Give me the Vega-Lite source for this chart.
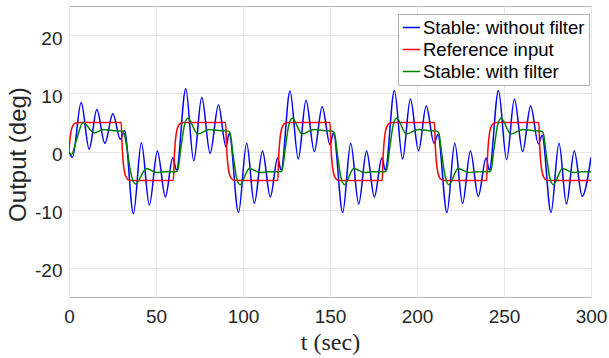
{
  "$schema": "https://vega.github.io/schema/vega-lite/v6.json",
  "width": 522,
  "height": 291,
  "autosize": {"type": "none"},
  "padding": {"left": 69, "top": 6, "right": 18, "bottom": 61},
  "background": "white",
  "config": {
    "view": {"stroke": "#b0b0b0", "strokeWidth": 1},
    "font": "Liberation Sans",
    "axis": {
      "grid": true,
      "gridColor": "#e6e6e6",
      "gridWidth": 1,
      "domain": false,
      "ticks": false,
      "labelFlush": false,
      "labelFont": "Liberation Sans",
      "labelFontSize": 19,
      "labelColor": "#262626",
      "titleColor": "#262626",
      "titleFontWeight": "normal"
    }
  },
  "datasets": {
    "blue": [{"t":0,"v":0},{"t":2,"v":-1},{"t":7,"v":8.4},{"t":11.6,"v":0.4},{"t":16,"v":7.2},{"t":20.6,"v":1.4},{"t":25.2,"v":6.5},{"t":29.5,"v":2.1},{"t":31.9,"v":3.6},{"t":37,"v":-10.7},{"t":41.6,"v":1.5},{"t":46.2,"v":-9.2},{"t":50.8,"v":0.1},{"t":55.4,"v":-7.8},{"t":59.6,"v":-1.1},
      {"t":61.8,"v":-3.2},{"t":67.1,"v":10.8},{"t":71.7,"v":-1.6},{"t":76.3,"v":9.3},{"t":81.1,"v":-0.3},{"t":85.9,"v":8},{"t":90.2,"v":0.8},{"t":92.1,"v":3.1},{"t":97.4,"v":-10.5},{"t":102.1,"v":1.4},{"t":106.5,"v":-8.9},{"t":111.2,"v":0.1},{"t":115.7,"v":-7.8},{"t":119.9,"v":-1.1},
      {"t":121.9,"v":-3.2},{"t":127,"v":10.4},{"t":131.8,"v":-1.3},{"t":136.2,"v":8.8},{"t":141,"v":0},{"t":145.5,"v":7.7},{"t":150,"v":1.2},{"t":152,"v":3.2},{"t":157.3,"v":-10.5},{"t":161.9,"v":1.4},{"t":166.5,"v":-9},{"t":171,"v":0.1},{"t":175.5,"v":-7.8},{"t":179.8,"v":-1.1},
      {"t":181.8,"v":-3.2},{"t":187,"v":10.5},{"t":191.7,"v":-1.3},{"t":196.2,"v":9},{"t":200.9,"v":0.1},{"t":205.3,"v":7.8},{"t":209.8,"v":1.4},{"t":212,"v":2.9},{"t":217.2,"v":-10.5},{"t":221.7,"v":1.4},{"t":226.2,"v":-8.9},{"t":230.7,"v":0.1},{"t":235.2,"v":-7.7},{"t":239.7,"v":-1.1},
      {"t":241.6,"v":-3.2},{"t":246.8,"v":10.5},{"t":251.5,"v":-1.4},{"t":256,"v":9},{"t":260.7,"v":0},{"t":265.3,"v":7.8},{"t":269.8,"v":1.3},{"t":271.9,"v":2.8},{"t":277,"v":-10.5},{"t":281.6,"v":1.4},{"t":285.9,"v":-9},{"t":290.4,"v":0.1},{"t":294.9,"v":-7.7},{"t":300,"v":-1}],
    "red": [{"t":0,"v":0},{"t":0.5,"v":1.97},{"t":1,"v":3.16},{"t":1.5,"v":3.88},{"t":2,"v":4.32},{"t":3,"v":4.75},{"t":4,"v":4.91},{"t":6,"v":5},
      {"t":30,"v":5},{"t":30.5,"v":1.07},{"t":31,"v":-1.32},{"t":31.5,"v":-2.77},{"t":32,"v":-3.65},{"t":33,"v":-4.5},{"t":34,"v":-4.82},{"t":36,"v":-5},
      {"t":60,"v":-5},{"t":60.5,"v":-1.07},{"t":61,"v":1.32},{"t":61.5,"v":2.77},{"t":62,"v":3.65},{"t":63,"v":4.5},{"t":64,"v":4.82},{"t":66,"v":5},
      {"t":90,"v":5},{"t":90.5,"v":1.07},{"t":91,"v":-1.32},{"t":91.5,"v":-2.77},{"t":92,"v":-3.65},{"t":93,"v":-4.5},{"t":94,"v":-4.82},{"t":96,"v":-5},
      {"t":120,"v":-5},{"t":120.5,"v":-1.07},{"t":121,"v":1.32},{"t":121.5,"v":2.77},{"t":122,"v":3.65},{"t":123,"v":4.5},{"t":124,"v":4.82},{"t":126,"v":5},
      {"t":150,"v":5},{"t":150.5,"v":1.07},{"t":151,"v":-1.32},{"t":151.5,"v":-2.77},{"t":152,"v":-3.65},{"t":153,"v":-4.5},{"t":154,"v":-4.82},{"t":156,"v":-5},
      {"t":180,"v":-5},{"t":180.5,"v":-1.07},{"t":181,"v":1.32},{"t":181.5,"v":2.77},{"t":182,"v":3.65},{"t":183,"v":4.5},{"t":184,"v":4.82},{"t":186,"v":5},
      {"t":210,"v":5},{"t":210.5,"v":1.07},{"t":211,"v":-1.32},{"t":211.5,"v":-2.77},{"t":212,"v":-3.65},{"t":213,"v":-4.5},{"t":214,"v":-4.82},{"t":216,"v":-5},
      {"t":240,"v":-5},{"t":240.5,"v":-1.07},{"t":241,"v":1.32},{"t":241.5,"v":2.77},{"t":242,"v":3.65},{"t":243,"v":4.5},{"t":244,"v":4.82},{"t":246,"v":5},
      {"t":270,"v":5},{"t":270.5,"v":1.07},{"t":271,"v":-1.32},{"t":271.5,"v":-2.77},{"t":272,"v":-3.65},{"t":273,"v":-4.5},{"t":274,"v":-4.82},{"t":276,"v":-5},
      {"t":300,"v":-5}],
    "green": [{"t":0,"v":0},{"t":1.3,"v":-0.6},{"t":4.3,"v":2},{"t":8,"v":5},{"t":14.5,"v":3.2},{"t":19.8,"v":3.8},{"t":25,"v":3.6},{"t":30.5,"v":3.5},{"t":31.5,"v":3.2},{"t":33,"v":1.2},{"t":35.2,"v":-3.2},{"t":38.2,"v":-5.6},{"t":44.5,"v":-2.9},{"t":50,"v":-3.6},{"t":55,"v":-3.5},{"t":61.5,"v":-3.5},
      {"t":62.5,"v":-3.2},{"t":64.4,"v":0.8},{"t":66.3,"v":4.5},{"t":68.3,"v":5.7},{"t":74,"v":3},{"t":80.8,"v":3.8},{"t":86,"v":3.6},{"t":91.5,"v":3.5},{"t":92.5,"v":3.2},{"t":94.4,"v":-0.8},{"t":96.3,"v":-4.5},{"t":98.3,"v":-5.7},{"t":103.6,"v":-2.9},{"t":109.5,"v":-3.6},{"t":115,"v":-3.5},{"t":121.5,"v":-3.5},
      {"t":122.5,"v":-3.2},{"t":124.4,"v":0.8},{"t":126.3,"v":4.5},{"t":128.3,"v":5.7},{"t":134,"v":3},{"t":140.8,"v":3.8},{"t":146,"v":3.6},{"t":151.5,"v":3.5},{"t":152.5,"v":3.2},{"t":154.4,"v":-0.8},{"t":156.3,"v":-4.5},{"t":158.3,"v":-5.7},{"t":163.6,"v":-2.9},{"t":169.5,"v":-3.6},{"t":175,"v":-3.5},{"t":181.5,"v":-3.5},
      {"t":182.5,"v":-3.2},{"t":184.4,"v":0.8},{"t":186.3,"v":4.5},{"t":188.3,"v":5.7},{"t":194,"v":3},{"t":200.8,"v":3.8},{"t":206,"v":3.6},{"t":211.5,"v":3.5},{"t":212.5,"v":3.2},{"t":214.4,"v":-0.8},{"t":216.3,"v":-4.5},{"t":218.3,"v":-5.7},{"t":223.6,"v":-2.9},{"t":229.5,"v":-3.6},{"t":235,"v":-3.5},{"t":241.5,"v":-3.5},
      {"t":242.5,"v":-3.2},{"t":244.4,"v":0.8},{"t":246.3,"v":4.5},{"t":248.3,"v":5.7},{"t":254,"v":3},{"t":260.8,"v":3.8},{"t":266,"v":3.6},{"t":271.5,"v":3.5},{"t":272.5,"v":3.2},{"t":274.4,"v":-0.8},{"t":276.3,"v":-4.5},{"t":278.3,"v":-5.7},{"t":283.6,"v":-2.9},{"t":289.5,"v":-3.6},{"t":295,"v":-3.5},{"t":300,"v":-3.5}]
  },
  "encoding": {
    "x": {
      "field": "t", "type": "quantitative",
      "scale": {"domain": [0, 300], "nice": false},
      "axis": {
        "values": [0, 50, 100, 150, 200, 250, 300],
        "labelPadding": 10,
        "labelExpr": "datum.value + ''",
        "title": "t (sec)",
        "titleFont": "Liberation Serif",
        "titleFontSize": 24,
        "titleY": 45,
        "titleBaseline": "middle"
      }
    },
    "y": {
      "field": "v", "type": "quantitative",
      "scale": {"domain": [-25, 25], "nice": false},
      "axis": {
        "values": [-20, -10, 0, 10, 20],
        "labelPadding": 7,
        "labelOffset": 3,
        "labelExpr": "datum.value + ''",
        "title": "Output (deg)",
        "titleFont": "Liberation Sans",
        "titleFontSize": 24,
        "titleAngle": -90,
        "titleX": -51,
        "titleY": 148,
        "titleAlign": "center",
        "titleBaseline": "middle"
      }
    }
  },
  "layer": [
    {
      "data": {"name": "blue"},
      "mark": {"type": "line", "interpolate": "monotone", "strokeWidth": 1.5, "clip": true},
      "encoding": {
        "color": {
          "datum": "Stable: without filter", "type": "nominal",
          "scale": {"domain": ["Stable: without filter", "Reference input", "Stable: with filter"], "range": ["#0000ff", "#ff0000", "#008000"]},
          "legend": {
            "orient": "none", "legendX": 329, "legendY": 8,
            "title": null,
            "symbolType": "stroke", "symbolSize": 300, "symbolStrokeWidth": 1.5,
            "labelFont": "Liberation Sans", "labelFontSize": 18.5, "labelColor": "#000000", "labelLimit": 300, "labelOffset": 2,
            "fillColor": "white", "strokeColor": "#b0b0b0",
            "padding": 4, "rowPadding": 3, "cornerRadius": 0
          }
        }
      }
    },
    {
      "data": {"name": "red"},
      "mark": {"type": "line", "interpolate": "monotone", "strokeWidth": 1.5, "clip": true},
      "encoding": {"color": {"datum": "Reference input", "type": "nominal"}}
    },
    {
      "data": {"name": "green"},
      "mark": {"type": "line", "interpolate": "monotone", "strokeWidth": 1.5, "clip": true},
      "encoding": {"color": {"datum": "Stable: with filter", "type": "nominal"}}
    }
  ]
}
